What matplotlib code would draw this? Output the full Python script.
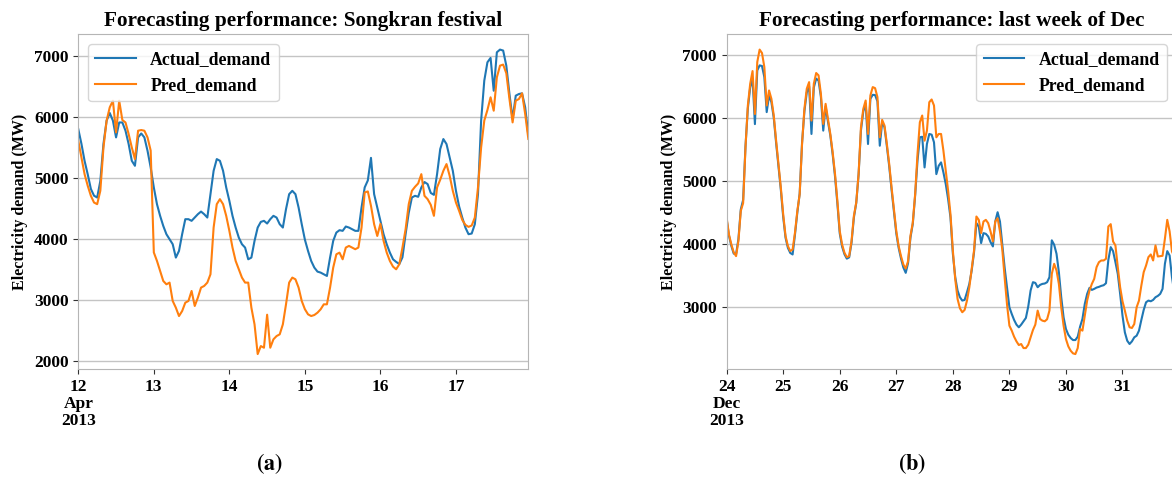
import numpy as np
import pandas as pd
import matplotlib
matplotlib.use("Agg")
import matplotlib.pyplot as plt
from matplotlib.ticker import MultipleLocator

# Hourly demand, 12-17 Apr 2013 (Songkran)
apr_actual = [
    5800, 5560, 5280, 5060, 4820, 4710, 4680, 4950, 5560, 5940, 6065, 5940,
    5665, 5910, 5910, 5775, 5556, 5282, 5200, 5665, 5730, 5665, 5446, 5173,
    4845, 4571, 4380, 4215, 4079, 3997, 3915, 3696, 3805, 4079, 4325, 4325,
    4298, 4352, 4407, 4450, 4407, 4352, 4735, 5118, 5310, 5282, 5118, 4845,
    4626, 4380, 4188, 4024, 3915, 3860, 3668, 3696, 3970, 4188, 4281, 4298,
    4254, 4325, 4380, 4352, 4243, 4188, 4489, 4735, 4790, 4735, 4516, 4243,
    3990, 3805, 3641, 3532, 3466, 3450, 3422, 3395, 3696, 3970, 4106, 4145,
    4134, 4205, 4188, 4161, 4134, 4134, 4516, 4845, 4960, 5330, 4735, 4516,
    4298, 4079, 3915, 3778, 3668, 3625, 3590, 3700, 4080, 4430, 4681, 4708,
    4692, 4845, 4934, 4900, 4755, 4724, 5063, 5474, 5638, 5556, 5337, 5118,
    4790, 4535, 4352, 4188, 4079, 4090, 4243, 4735, 5940, 6595, 6896, 6967,
    6430, 7060, 7104, 7088, 6841, 6376, 5966, 6349, 6376, 6387, 6158, 5700,
]
apr_pred = [
    5611, 5337, 5063, 4872, 4708, 4598, 4571, 4790, 5501, 5940, 6158, 6267,
    5747, 6267, 5950, 5910, 5720, 5501, 5310, 5775, 5786, 5775, 5665, 5450,
    3780, 3641, 3477, 3313, 3258, 3286, 2985, 2875, 2738, 2820, 2957, 2985,
    3149, 2903, 3040, 3204, 3231, 3286, 3422, 4188, 4571, 4653, 4571, 4380,
    4134, 3860, 3641, 3504, 3368, 3286, 3286, 2875, 2602, 2115, 2246, 2219,
    2760, 2219, 2356, 2410, 2438, 2602, 2930, 3286, 3368, 3340, 3204, 2985,
    2850, 2766, 2738, 2755, 2793, 2848, 2930, 2930, 3204, 3532, 3750, 3777,
    3668, 3860, 3887, 3860, 3833, 3860, 4188, 4763, 4780, 4544, 4243, 4050,
    4250, 3970, 3778, 3641, 3548, 3504, 3586, 3860, 4161, 4571, 4790, 4856,
    4911, 5063, 4708, 4653, 4560, 4380, 4845, 4972, 5118, 5228, 5036, 4790,
    4598, 4462, 4314, 4232, 4199, 4221, 4352, 4845, 5501, 5940, 6114, 6322,
    6103, 6650, 6841, 6858, 6716, 6294, 5911, 6267, 6294, 6387, 6048, 5640,
]

# Hourly demand, 24-31 Dec 2013
dec_actual = [
    4390, 4130, 3970, 3850, 3840, 4080, 4550, 4700, 5550, 6150, 6480, 6620,
    5900, 6750, 6830, 6820, 6645, 6090, 6353, 6247, 6000, 5600, 5230, 4860,
    4430, 4100, 3940, 3860, 3836, 4150, 4500, 4800, 5600, 6100, 6400, 6500,
    5744, 6480, 6620, 6590, 6330, 5797, 6180, 5940, 5720, 5420, 5070, 4640,
    4170, 3960, 3840, 3770, 3790, 4020, 4420, 4650, 5100, 5800, 6100, 6220,
    5585, 6300, 6364, 6360, 6260, 5558, 5930, 5850, 5550, 5230, 4860, 4510,
    4170, 3940, 3770, 3630, 3545, 3700, 4100, 4320, 4770, 5320, 5691, 5700,
    5214, 5585, 5744, 5733, 5612, 5108, 5240, 5294, 5135, 4949, 4711, 4420,
    3850, 3480, 3265, 3159, 3106, 3116, 3238, 3370, 3582, 3873, 4332, 4279,
    4016, 4174, 4163, 4121, 4032, 3963, 4358, 4505, 4358, 3990, 3621, 3305,
    3000, 2894, 2799, 2725, 2683, 2725, 2778, 2831, 3011, 3265, 3397, 3386,
    3317, 3354, 3370, 3376, 3397, 3476, 4060, 3990, 3847, 3556, 3159, 2841,
    2656, 2566, 2513, 2481, 2481, 2534, 2693, 2815, 3053, 3212, 3307, 3275,
    3291, 3312, 3323, 3339, 3349, 3381, 3750, 3952, 3889, 3714, 3529, 3212,
    2868, 2603, 2471, 2418, 2460, 2524, 2550, 2630, 2799, 2958, 3079, 3106,
    3095, 3116, 3159, 3180, 3212, 3291, 3688, 3889, 3820, 3476, 3230, 3100,
]
dec_pred = [
    4420, 4150, 3995, 3870, 3810, 4050, 4525, 4650, 5532, 6195, 6540, 6740,
    6060, 6883, 7080, 7026, 6804, 6195, 6433, 6300, 6036, 5638, 5267, 4896,
    4472, 4128, 3969, 3889, 3916, 4180, 4525, 4790, 5585, 6142, 6459, 6565,
    5956, 6539, 6709, 6672, 6380, 5903, 6221, 5982, 5744, 5453, 5108, 4684,
    4207, 3995, 3863, 3794, 3810, 4048, 4446, 4658, 5108, 5850, 6142, 6274,
    5744, 6353, 6486, 6470, 6327, 5691, 5967, 5877, 5585, 5267, 4896, 4552,
    4207, 3969, 3810, 3677, 3614, 3730, 4128, 4340, 4790, 5426, 5930, 6036,
    5638, 5797, 6247, 6290, 6195, 5691, 5744, 5744, 5479, 5161, 4843, 4472,
    3900, 3450, 3132, 2984, 2921, 2958, 3106, 3317, 3608, 3900, 4437, 4384,
    4174, 4358, 4384, 4332, 4200, 4042, 4358, 4410, 4200, 3910, 3463, 3042,
    2709, 2630, 2534, 2460, 2402, 2418, 2354, 2354, 2407, 2524, 2640, 2725,
    2947, 2815, 2788, 2778, 2810, 2947, 3529, 3688, 3582, 3370, 3000, 2709,
    2497, 2381, 2312, 2270, 2259, 2354, 2656, 2630, 2868, 3106, 3265, 3370,
    3450, 3635, 3714, 3741, 3741, 3767, 4279, 4316, 4042, 3979, 3635, 3317,
    3095, 2947, 2788, 2683, 2672, 2735, 3000, 3106, 3344, 3556, 3661, 3794,
    3836, 3741, 3979, 3804, 3810, 3815, 4085, 4384, 4200, 3884, 3800, 3700,
]

apr_start = "2013-04-12"
dec_start = "2013-12-24"
titles = ["Forecasting performance: Songkran festival",
          "Forecasting performance: last week of Dec"]
captions = [r"$(\mathbf{a})$", r"$(\mathbf{b})$"]

plt.rcParams["font.family"] = ["Liberation Serif", "DejaVu Serif"]
plt.rcParams["font.weight"] = "bold"
plt.rcParams["mathtext.fontset"] = "stix"


def draw_panel(ax, start, actual, pred, title, legend_loc):
    t = pd.date_range(start, periods=len(actual), freq="h")
    ax.plot(t, actual, color="#1f77b4", lw=1.5, label="Actual_demand")
    ax.plot(t, pred, color="#ff7f0e", lw=1.5, label="Pred_demand")
    ax.set_xlim(t[0], t[-1])

    # day ticks, first one carries month and year
    days = pd.date_range(t[0].normalize(), t[-1], freq="D")
    labels = [f"{d.day}" for d in days]
    labels[0] = f"{days[0].day}\n{days[0]:%b}\n{days[0]:%Y}"
    ax.set_xticks(days)
    ax.set_xticklabels(labels, fontsize=12.5, fontweight="bold", linespacing=1.1)
    ax.yaxis.set_major_locator(MultipleLocator(1000))
    ax.tick_params(axis="y", labelsize=12.5, colors="#333333", labelcolor="black")
    ax.tick_params(axis="x", colors="#333333", labelcolor="black")

    ax.grid(axis="y", color="#c4c4c4", lw=1.0)
    for s in ax.spines.values():
        s.set_color("#b5b5b5")

    ax.set_title(title, fontsize=15.3, fontweight="bold")
    ax.set_ylabel("Electricity demand (MW)", fontsize=11.5, fontweight="bold")
    ax.legend(loc=legend_loc, fontsize=12.8, handlelength=2.3,
              borderaxespad=0.55, edgecolor="#cccccc")


def main():
    fig = plt.figure(figsize=(11.72, 4.84), dpi=100)
    ax1 = fig.add_axes([0.0668, 0.237, 0.384, 0.692])
    ax2 = fig.add_axes([0.620, 0.237, 0.384, 0.692])

    draw_panel(ax1, apr_start, apr_actual, apr_pred, titles[0], "upper left")
    draw_panel(ax2, dec_start, dec_actual, dec_pred, titles[1], "upper right")

    fig.text(0.230, 0.042, captions[0], fontsize=16, ha="center", va="center")
    fig.text(0.778, 0.042, captions[1], fontsize=16, ha="center", va="center")

    fig.savefig("out.png", dpi=100)


if __name__ == "__main__":
    main()
